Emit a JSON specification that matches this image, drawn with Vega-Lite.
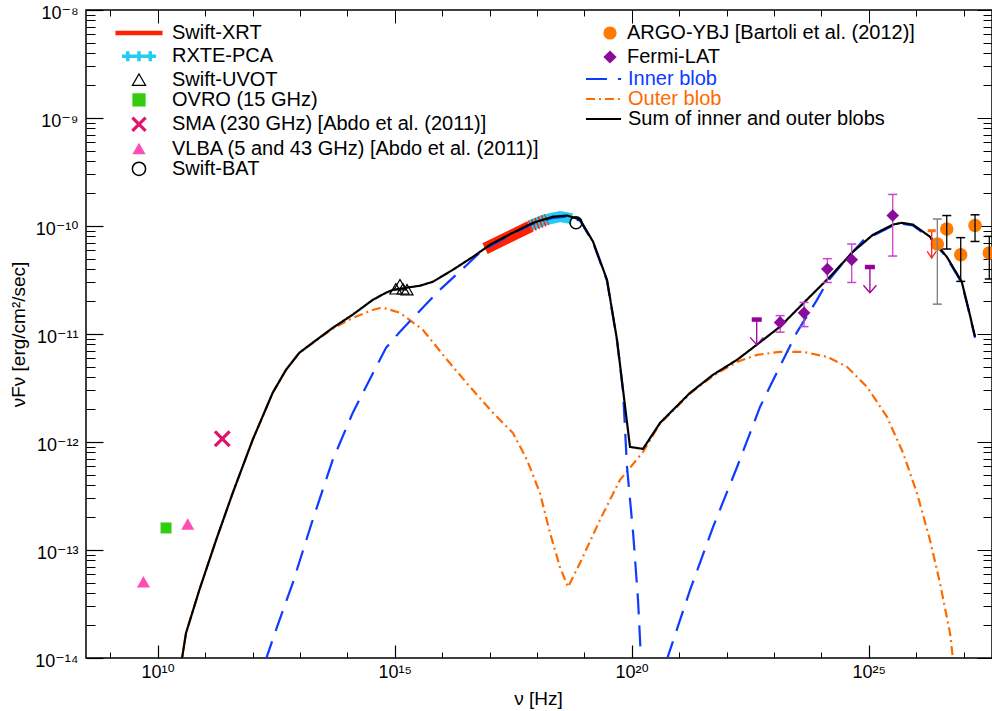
{
  "$schema": "https://vega.github.io/schema/vega-lite/v6.json",
  "width": 906,
  "height": 648,
  "autosize": "none",
  "padding": {"left": 86, "top": 10, "right": 0, "bottom": 53},
  "background": "white",
  "config": {
    "view": {"stroke": "black", "strokeWidth": 1.5},
    "font": "Liberation Sans, DejaVu Sans, sans-serif",
    "axis": {"domain": false, "grid": false, "tickColor": "black", "tickWidth": 1, "labelColor": "black", "titleColor": "black", "titleFontWeight": "normal", "labelFlush": false, "labelOverlap": false, "labelFont": "Liberation Sans, DejaVu Sans, sans-serif", "titleFont": "Liberation Sans, DejaVu Sans, sans-serif"},
    "legend": {"labelFont": "Liberation Sans, DejaVu Sans, sans-serif", "labelFontSize": 20, "labelColor": "black", "labelLimit": 700, "padding": 0, "offset": 0}
  },
  "datasets": {
    "rxte": [{"nu":7.14e17,"F":1.01e-10},{"nu":1.48e18,"F":1.14e-10},{"nu":3.07e18,"F":1.22e-10},{"nu":5.50e18,"F":1.17e-10}],
    "xrt": [{"nu":8.04e16,"F":6.17e-11},{"nu":7.14e17,"F":9.89e-11}],
    "xrth": [{"nu":7.14e17,"F":9.89e-11},{"nu":1.63e18,"F":1.15e-10}],
    "curves": [
      {"m":"sum","seg":"s","nu":3.16e10,"F":9.12e-15},
      {"m":"sum","seg":"s","nu":3.95e10,"F":1.70e-14},
      {"m":"sum","seg":"s","nu":7.55e10,"F":4.26e-14},
      {"m":"sum","seg":"s","nu":1.71e11,"F":1.24e-13},
      {"m":"sum","seg":"s","nu":3.82e11,"F":3.37e-13},
      {"m":"sum","seg":"s","nu":1.01e12,"F":1.05e-12},
      {"m":"sum","seg":"s","nu":2.67e12,"F":2.86e-12},
      {"m":"sum","seg":"s","nu":5.09e12,"F":4.66e-12},
      {"m":"sum","seg":"s","nu":9.71e12,"F":6.70e-12},
      {"m":"sum","seg":"s","nu":1.86e13,"F":8.30e-12},
      {"m":"sum","seg":"s","nu":4.92e13,"F":1.14e-11},
      {"m":"sum","seg":"s","nu":1.30e14,"F":1.51e-11},
      {"m":"sum","seg":"s","nu":3.44e14,"F":2.07e-11},
      {"m":"sum","seg":"s","nu":6.55e14,"F":2.41e-11},
      {"m":"sum","seg":"s","nu":9.33e14,"F":2.57e-11},
      {"m":"sum","seg":"s","nu":3.42e15,"F":2.80e-11},
      {"m":"sum","seg":"s","nu":6.43e15,"F":3.05e-11},
      {"m":"sum","seg":"s","nu":1.70e16,"F":3.94e-11},
      {"m":"sum","seg":"s","nu":4.49e16,"F":5.19e-11},
      {"m":"sum","seg":"s","nu":1.03e17,"F":6.71e-11},
      {"m":"sum","seg":"s","nu":3.13e17,"F":8.67e-11},
      {"m":"sum","seg":"s","nu":8.28e17,"F":1.07e-10},
      {"m":"sum","seg":"s","nu":2.19e18,"F":1.22e-10},
      {"m":"sum","seg":"s","nu":4.32e18,"F":1.25e-10},
      {"m":"sum","seg":"s","nu":8.11e18,"F":1.15e-10},
      {"m":"sum","seg":"s","nu":1.53e19,"F":7.16e-11},
      {"m":"sum","seg":"s","nu":3.01e19,"F":3.18e-11},
      {"m":"sum","seg":"s","nu":4.90e19,"F":8.83e-12},
      {"m":"sum","seg":"s","nu":6.56e19,"F":3.04e-12},
      {"m":"sum","seg":"s","nu":9.20e19,"F":9.00e-13},
      {"m":"sum","seg":"s","nu":1.73e20,"F":8.63e-13},
      {"m":"sum","seg":"s","nu":3.95e20,"F":1.50e-12},
      {"m":"sum","seg":"s","nu":1.70e21,"F":2.85e-12},
      {"m":"sum","seg":"s","nu":5.19e21,"F":4.19e-12},
      {"m":"sum","seg":"s","nu":1.67e22,"F":5.77e-12},
      {"m":"sum","seg":"s","nu":4.34e22,"F":7.94e-12},
      {"m":"sum","seg":"s","nu":1.35e23,"F":1.17e-11},
      {"m":"sum","seg":"s","nu":4.92e23,"F":2.07e-11},
      {"m":"sum","seg":"s","nu":1.52e24,"F":3.39e-11},
      {"m":"sum","seg":"s","nu":4.67e24,"F":5.78e-11},
      {"m":"sum","seg":"s","nu":1.23e25,"F":8.30e-11},
      {"m":"sum","seg":"s","nu":3.25e25,"F":1.03e-10},
      {"m":"sum","seg":"s","nu":4.97e25,"F":1.07e-10},
      {"m":"sum","seg":"s","nu":8.59e25,"F":1.03e-10},
      {"m":"sum","seg":"s","nu":1.96e26,"F":7.96e-11},
      {"m":"sum","seg":"s","nu":4.43e26,"F":5.19e-11},
      {"m":"sum","seg":"s","nu":9.16e26,"F":3.05e-11},
      {"m":"sum","seg":"s","nu":1.24e27,"F":1.79e-11},
      {"m":"sum","seg":"s","nu":1.75e27,"F":9.42e-12},
      {"m":"inner","seg":"a","nu":1.86e12,"F":9.33e-15},
      {"m":"inner","seg":"a","nu":3.40e12,"F":2.02e-14},
      {"m":"inner","seg":"a","nu":7.05e12,"F":4.94e-14},
      {"m":"inner","seg":"a","nu":1.86e13,"F":1.90e-13},
      {"m":"inner","seg":"a","nu":4.92e13,"F":6.82e-13},
      {"m":"inner","seg":"a","nu":1.30e14,"F":1.86e-12},
      {"m":"inner","seg":"a","nu":2.48e14,"F":3.24e-12},
      {"m":"inner","seg":"a","nu":6.55e14,"F":7.45e-12},
      {"m":"inner","seg":"a","nu":1.29e15,"F":1.05e-11},
      {"m":"inner","seg":"a","nu":2.43e15,"F":1.41e-11},
      {"m":"inner","seg":"a","nu":9.04e15,"F":2.57e-11},
      {"m":"inner","seg":"a","nu":3.35e16,"F":4.38e-11},
      {"m":"inner","seg":"a","nu":7.29e16,"F":6.03e-11},
      {"m":"inner","seg":"a","nu":3.13e17,"F":8.51e-11},
      {"m":"inner","seg":"a","nu":8.28e17,"F":1.05e-10},
      {"m":"inner","seg":"a","nu":2.19e18,"F":1.19e-10},
      {"m":"inner","seg":"a","nu":4.32e18,"F":1.22e-10},
      {"m":"inner","seg":"a","nu":8.11e18,"F":1.12e-10},
      {"m":"inner","seg":"a","nu":1.53e19,"F":7.00e-11},
      {"m":"inner","seg":"a","nu":3.01e19,"F":3.11e-11},
      {"m":"inner","seg":"a","nu":4.90e19,"F":8.65e-12},
      {"m":"inner","seg":"a","nu":6.56e19,"F":2.98e-12},
      {"m":"inner","seg":"a","nu":7.96e19,"F":5.87e-13},
      {"m":"inner","seg":"a","nu":1.07e20,"F":1.44e-13},
      {"m":"inner","seg":"a","nu":1.36e20,"F":3.44e-14},
      {"m":"inner","seg":"a","nu":1.585e20,"F":8.91e-15},
      {"m":"inner","seg":"b","nu":5.37e20,"F":9.33e-15},
      {"m":"inner","seg":"b","nu":1.70e21,"F":4.26e-14},
      {"m":"inner","seg":"b","nu":5.19e21,"F":1.63e-13},
      {"m":"inner","seg":"b","nu":1.67e22,"F":5.87e-13},
      {"m":"inner","seg":"b","nu":5.09e22,"F":2.11e-12},
      {"m":"inner","seg":"b","nu":9.70e22,"F":3.77e-12},
      {"m":"inner","seg":"b","nu":3.03e23,"F":1.03e-11},
      {"m":"inner","seg":"b","nu":8.11e23,"F":2.07e-11},
      {"m":"inner","seg":"b","nu":1.30e24,"F":2.98e-11},
      {"m":"inner","seg":"b","nu":3.44e24,"F":5.01e-11},
      {"m":"inner","seg":"b","nu":9.08e24,"F":7.96e-11},
      {"m":"inner","seg":"b","nu":1.23e25,"F":8.13e-11},
      {"m":"inner","seg":"b","nu":3.25e25,"F":1.01e-10},
      {"m":"inner","seg":"b","nu":4.97e25,"F":1.05e-10},
      {"m":"inner","seg":"b","nu":8.59e25,"F":1.01e-10},
      {"m":"inner","seg":"b","nu":1.96e26,"F":7.80e-11},
      {"m":"inner","seg":"b","nu":4.43e26,"F":5.08e-11},
      {"m":"inner","seg":"b","nu":9.16e26,"F":2.98e-11},
      {"m":"inner","seg":"b","nu":1.24e27,"F":1.75e-11},
      {"m":"inner","seg":"b","nu":1.75e27,"F":9.23e-12},
      {"m":"outer","seg":"o","nu":3.16e10,"F":9.12e-15},
      {"m":"outer","seg":"o","nu":3.95e10,"F":1.70e-14},
      {"m":"outer","seg":"o","nu":7.55e10,"F":4.26e-14},
      {"m":"outer","seg":"o","nu":1.71e11,"F":1.24e-13},
      {"m":"outer","seg":"o","nu":3.82e11,"F":3.37e-13},
      {"m":"outer","seg":"o","nu":1.01e12,"F":1.05e-12},
      {"m":"outer","seg":"o","nu":2.67e12,"F":2.86e-12},
      {"m":"outer","seg":"o","nu":5.09e12,"F":4.66e-12},
      {"m":"outer","seg":"o","nu":9.71e12,"F":6.70e-12},
      {"m":"outer","seg":"o","nu":1.86e13,"F":8.25e-12},
      {"m":"outer","seg":"o","nu":4.92e13,"F":1.12e-11},
      {"m":"outer","seg":"o","nu":1.30e14,"F":1.41e-11},
      {"m":"outer","seg":"o","nu":3.44e14,"F":1.67e-11},
      {"m":"outer","seg":"o","nu":4.90e14,"F":1.74e-11},
      {"m":"outer","seg":"o","nu":6.55e14,"F":1.72e-11},
      {"m":"outer","seg":"o","nu":1.29e15,"F":1.57e-11},
      {"m":"outer","seg":"o","nu":3.95e15,"F":1.09e-11},
      {"m":"outer","seg":"o","nu":1.27e16,"F":5.77e-12},
      {"m":"outer","seg":"o","nu":3.87e16,"F":3.24e-12},
      {"m":"outer","seg":"o","nu":1.19e17,"F":1.86e-12},
      {"m":"outer","seg":"o","nu":3.13e17,"F":1.21e-12},
      {"m":"outer","seg":"o","nu":6.18e17,"F":6.82e-13},
      {"m":"outer","seg":"o","nu":1.16e18,"F":3.37e-13},
      {"m":"outer","seg":"o","nu":1.89e18,"F":1.44e-13},
      {"m":"outer","seg":"o","nu":3.07e18,"F":6.95e-14},
      {"m":"outer","seg":"o","nu":4.53e18,"F":4.54e-14},
      {"m":"outer","seg":"o","nu":8.11e18,"F":7.57e-14},
      {"m":"outer","seg":"o","nu":2.14e19,"F":1.90e-13},
      {"m":"outer","seg":"o","nu":5.66e19,"F":4.46e-13},
      {"m":"outer","seg":"o","nu":1.73e20,"F":8.09e-13},
      {"m":"outer","seg":"o","nu":3.95e20,"F":1.48e-12},
      {"m":"outer","seg":"o","nu":1.70e21,"F":2.81e-12},
      {"m":"outer","seg":"o","nu":5.19e21,"F":4.10e-12},
      {"m":"outer","seg":"o","nu":1.67e22,"F":5.52e-12},
      {"m":"outer","seg":"o","nu":4.41e22,"F":6.41e-12},
      {"m":"outer","seg":"o","nu":1.35e23,"F":6.84e-12},
      {"m":"outer","seg":"o","nu":4.11e23,"F":6.84e-12},
      {"m":"outer","seg":"o","nu":1.32e24,"F":6.15e-12},
      {"m":"outer","seg":"o","nu":3.48e24,"F":4.97e-12},
      {"m":"outer","seg":"o","nu":9.20e24,"F":3.24e-12},
      {"m":"outer","seg":"o","nu":2.43e25,"F":1.71e-12},
      {"m":"outer","seg":"o","nu":5.30e25,"F":7.93e-13},
      {"m":"outer","seg":"o","nu":1.04e26,"F":3.37e-13},
      {"m":"outer","seg":"o","nu":1.96e26,"F":1.24e-13},
      {"m":"outer","seg":"o","nu":3.19e26,"F":4.94e-14},
      {"m":"outer","seg":"o","nu":5.19e26,"F":1.70e-14},
      {"m":"outer","seg":"o","nu":6.17e26,"F":8.71e-15}
    ],
    "obs": [
      {"src":"Swift-UVOT","nu":1.06e15,"F":2.62e-11},
      {"src":"Swift-UVOT","nu":1.29e15,"F":2.86e-11},
      {"src":"Swift-UVOT","nu":1.50e15,"F":2.62e-11},
      {"src":"Swift-UVOT","nu":1.82e15,"F":2.57e-11},
      {"src":"OVRO (15 GHz)","nu":1.5e10,"F":1.60e-13},
      {"src":"SMA (230 GHz) [Abdo et al. (2011)]","nu":2.3e11,"F":1.07e-12},
      {"src":"VLBA (5 and 43 GHz) [Abdo et al. (2011)]","nu":5.0e9,"F":5.08e-14},
      {"src":"VLBA (5 and 43 GHz) [Abdo et al. (2011)]","nu":4.3e10,"F":1.74e-13},
      {"src":"Swift-BAT","nu":6.68e18,"F":1.07e-10}
    ],
    "fermi": [
      {"src":"Fermi-LAT","nu":1.35e23,"F":1.28e-11,"lo":1.04e-11,"hi":1.48e-11},
      {"src":"Fermi-LAT","nu":4.32e23,"F":1.57e-11,"lo":1.17e-11,"hi":1.96e-11},
      {"src":"Fermi-LAT","nu":1.34e24,"F":3.99e-11,"lo":3.00e-11,"hi":4.98e-11},
      {"src":"Fermi-LAT","nu":4.38e24,"F":4.88e-11,"lo":3.00e-11,"hi":6.81e-11},
      {"src":"Fermi-LAT","nu":3.21e25,"F":1.25e-10,"lo":5.27e-11,"hi":1.96e-10}
    ],
    "fermi_ul": [
      {"nu":4.34e22,"top":1.36e-11,"tip":7.94e-12},
      {"nu":1.06e25,"top":4.17e-11,"tip":2.41e-11}
    ],
    "red_ul": [
      {"nu":2.13e26,"top":9.04e-11,"tip":5.05e-11}
    ],
    "argo": [
      {"src":"ARGO-YBJ [Bartoli et al. (2012)]","nu":2.80e26,"F":6.81e-11,"lo":1.89e-11,"hi":1.16e-10},
      {"src":"ARGO-YBJ [Bartoli et al. (2012)]","nu":4.43e26,"F":9.38e-11,"lo":6.12e-11,"hi":1.25e-10},
      {"src":"ARGO-YBJ [Bartoli et al. (2012)]","nu":8.73e26,"F":5.42e-11,"lo":3.07e-11,"hi":7.80e-11},
      {"src":"ARGO-YBJ [Bartoli et al. (2012)]","nu":1.75e27,"F":1.01e-10,"lo":7.19e-11,"hi":1.27e-10},
      {"src":"ARGO-YBJ [Bartoli et al. (2012)]","nu":3.50e27,"F":5.62e-11,"lo":3.23e-11,"hi":8.02e-11}
    ]
  },
  "encoding": {
    "x": {"field": "nu", "type": "quantitative", "scale": {"type": "log", "domain": [3.07e8, 3.99e27], "nice": false}, "axis": null},
    "y": {"field": "F", "type": "quantitative", "scale": {"type": "log", "domain": [1e-14, 1e-8], "nice": false}, "axis": null}
  },
  "layer": [
    {
      "data": {"name": "rxte"},
      "mark": {"type": "line", "color": "#22CCF2", "strokeWidth": 11, "strokeCap": "butt", "clip": true},
      "encoding": {}
    },
    {
      "data": {"name": "xrt"},
      "mark": {"type": "line", "color": "#FF2200", "strokeWidth": 12, "strokeCap": "butt", "clip": true},
      "encoding": {
        "x": {"field": "nu", "type": "quantitative", "scale": {"type": "log", "domain": [3.07e8, 3.99e27], "nice": false},
              "axis": {"orient": "top", "values": [1e9,1e11,1e12,1e13,1e14,1e16,1e17,1e18,1e19,1e21,1e22,1e23,1e24,1e26,1e27], "tickSize": -6, "labels": false, "title": null}},
        "y": {"field": "F", "type": "quantitative", "scale": {"type": "log", "domain": [1e-14, 1e-8], "nice": false},
              "axis": {"orient": "right", "values": [2e-14,3e-14,4e-14,5e-14,6e-14,7e-14,8e-14,9e-14,2e-13,3e-13,4e-13,5e-13,6e-13,7e-13,8e-13,9e-13,2e-12,3e-12,4e-12,5e-12,6e-12,7e-12,8e-12,9e-12,2e-11,3e-11,4e-11,5e-11,6e-11,7e-11,8e-11,9e-11,2e-10,3e-10,4e-10,5e-10,6e-10,7e-10,8e-10,9e-10,2e-9,3e-9,4e-9,5e-9,6e-9,7e-9,8e-9,9e-9], "tickSize": -9, "labels": false, "title": null}}
      }
    },
    {
      "data": {"name": "xrth"},
      "mark": {"type": "line", "color": "#FF2200", "strokeWidth": 12, "strokeCap": "butt", "strokeDash": [1.5, 2], "clip": true},
      "encoding": {}
    },
    {
      "data": {"name": "curves"},
      "transform": [{"filter": "datum.m == 'outer'"}],
      "mark": {"type": "line", "strokeWidth": 2.2, "strokeCap": "butt", "clip": true},
      "encoding": {
        "x": {"field": "nu", "type": "quantitative", "scale": {"type": "log", "domain": [3.07e8, 3.99e27], "nice": false},
              "axis": {"orient": "top", "values": [1e10,1e15,1e20,1e25], "tickSize": -13, "labels": false, "title": null}},
        "y": {"field": "F", "type": "quantitative", "scale": {"type": "log", "domain": [1e-14, 1e-8], "nice": false},
              "axis": {"orient": "right", "values": [1e-14,1e-13,1e-12,1e-11,1e-10,1e-9,1e-8], "tickSize": -15, "labels": false, "title": null}},
        "color": {"field": "m", "type": "nominal", "scale": {"domain": ["inner","outer","sum"], "range": ["#0D3BFF","#FF6A00","#000000"]},
                  "legend": {"title": null, "orient": "none", "legendX": 507.5, "legendY": 59, "symbolType": "M-2.7,0H2.7", "symbolSize": 169, "symbolStrokeWidth": 2.2, "labelOffset": 14.5, "rowPadding": 0,
                             "labelExpr": "datum.value == 'inner' ? 'Inner blob' : datum.value == 'outer' ? 'Outer blob' : 'Sum of inner and outer blobs'",
                             "labelColor": {"expr": "datum.value == 'inner' ? '#0D3BFF' : datum.value == 'outer' ? '#FF6A00' : 'black'"}}},
        "strokeDash": {"field": "m", "type": "nominal", "scale": {"domain": ["inner","outer","sum"], "range": [[21,11],[9,4,2,4],[1,0]]},
                  "legend": {"title": null, "orient": "none", "legendX": 507.5, "legendY": 59, "symbolType": "M-2.7,0H2.7", "symbolSize": 169, "symbolStrokeWidth": 2.2, "labelOffset": 14.5, "rowPadding": 0,
                             "labelExpr": "datum.value == 'inner' ? 'Inner blob' : datum.value == 'outer' ? 'Outer blob' : 'Sum of inner and outer blobs'",
                             "labelColor": {"expr": "datum.value == 'inner' ? '#0D3BFF' : datum.value == 'outer' ? '#FF6A00' : 'black'"}}},
        "detail": {"field": "seg"}
      }
    },
    {
      "data": {"name": "curves"},
      "transform": [{"filter": "datum.m == 'inner'"}],
      "mark": {"type": "line", "strokeWidth": 2.2, "strokeCap": "butt", "clip": true},
      "encoding": {
        "x": {"field": "nu", "type": "quantitative", "scale": {"type": "log", "domain": [3.07e8, 3.99e27], "nice": false},
              "axis": {"orient": "bottom", "values": [1e9,1e11,1e12,1e13,1e14,1e16,1e17,1e18,1e19,1e21,1e22,1e23,1e24,1e26,1e27], "tickSize": -6, "labels": false, "title": null}},
        "y": {"field": "F", "type": "quantitative", "scale": {"type": "log", "domain": [1e-14, 1e-8], "nice": false},
              "axis": {"orient": "left", "values": [2e-14,3e-14,4e-14,5e-14,6e-14,7e-14,8e-14,9e-14,2e-13,3e-13,4e-13,5e-13,6e-13,7e-13,8e-13,9e-13,2e-12,3e-12,4e-12,5e-12,6e-12,7e-12,8e-12,9e-12,2e-11,3e-11,4e-11,5e-11,6e-11,7e-11,8e-11,9e-11,2e-10,3e-10,4e-10,5e-10,6e-10,7e-10,8e-10,9e-10,2e-9,3e-9,4e-9,5e-9,6e-9,7e-9,8e-9,9e-9], "tickSize": -9, "labels": false, "title": null}},
        "color": {"field": "m", "type": "nominal", "scale": {"domain": ["inner","outer","sum"], "range": ["#0D3BFF","#FF6A00","#000000"]},
                  "legend": {"title": null, "orient": "none", "legendX": 507.5, "legendY": 59, "symbolType": "M-2.7,0H2.7", "symbolSize": 169, "symbolStrokeWidth": 2.2, "labelOffset": 14.5, "rowPadding": 0,
                             "labelExpr": "datum.value == 'inner' ? 'Inner blob' : datum.value == 'outer' ? 'Outer blob' : 'Sum of inner and outer blobs'",
                             "labelColor": {"expr": "datum.value == 'inner' ? '#0D3BFF' : datum.value == 'outer' ? '#FF6A00' : 'black'"}}},
        "strokeDash": {"field": "m", "type": "nominal", "scale": {"domain": ["inner","outer","sum"], "range": [[21,11],[9,4,2,4],[1,0]]},
                  "legend": {"title": null, "orient": "none", "legendX": 507.5, "legendY": 59, "symbolType": "M-2.7,0H2.7", "symbolSize": 169, "symbolStrokeWidth": 2.2, "labelOffset": 14.5, "rowPadding": 0,
                             "labelExpr": "datum.value == 'inner' ? 'Inner blob' : datum.value == 'outer' ? 'Outer blob' : 'Sum of inner and outer blobs'",
                             "labelColor": {"expr": "datum.value == 'inner' ? '#0D3BFF' : datum.value == 'outer' ? '#FF6A00' : 'black'"}}},
        "detail": {"field": "seg"}
      }
    },
    {
      "data": {"name": "curves"},
      "transform": [{"filter": "datum.m == 'sum'"}],
      "mark": {"type": "line", "strokeWidth": 2.2, "strokeCap": "butt", "clip": true},
      "encoding": {
        "x": {"field": "nu", "type": "quantitative", "scale": {"type": "log", "domain": [3.07e8, 3.99e27], "nice": false},
              "axis": {"orient": "bottom", "values": [1e10,1e15,1e20,1e25], "tickSize": -13, "tickWidth": 1.2, "labelPadding": 18, "labelFontSize": 18,
                       "labelExpr": "datum.value < 1e12 ? '10¹⁰' : datum.value < 1e17 ? '10¹⁵' : datum.value < 1e22 ? '10²⁰' : '10²⁵'",
                       "title": "ν [Hz]", "titleFontSize": 19, "titleX": 452, "titleY": 40, "titleAlign": "center", "titleBaseline": "middle"}},
        "y": {"field": "F", "type": "quantitative", "scale": {"type": "log", "domain": [1e-14, 1e-8], "nice": false},
              "axis": {"orient": "left", "values": [1e-14,1e-13,1e-12,1e-11,1e-10,1e-9,1e-8], "tickSize": -17, "tickWidth": 1.2, "labelPadding": 25, "labelFontSize": 18, "labelBaseline": "middle", "labelOffset": 3,
                       "labelExpr": "datum.value > 5e-9 ? '10⁻⁸' : datum.value > 5e-10 ? '10⁻⁹' : datum.value > 5e-11 ? '10⁻¹⁰' : datum.value > 5e-12 ? '10⁻¹¹' : datum.value > 5e-13 ? '10⁻¹²' : datum.value > 5e-14 ? '10⁻¹³' : '10⁻¹⁴'",
                       "title": "νFν [erg/cm²/sec]", "titleFontSize": 19, "titleX": -68, "titleY": 324, "titleAngle": 270, "titleAlign": "center", "titleBaseline": "middle"}},
        "color": {"field": "m", "type": "nominal", "scale": {"domain": ["inner","outer","sum"], "range": ["#0D3BFF","#FF6A00","#000000"]},
                  "legend": {"title": null, "orient": "none", "legendX": 507.5, "legendY": 59, "symbolType": "M-2.7,0H2.7", "symbolSize": 169, "symbolStrokeWidth": 2.2, "labelOffset": 14.5, "rowPadding": 0,
                             "labelExpr": "datum.value == 'inner' ? 'Inner blob' : datum.value == 'outer' ? 'Outer blob' : 'Sum of inner and outer blobs'",
                             "labelColor": {"expr": "datum.value == 'inner' ? '#0D3BFF' : datum.value == 'outer' ? '#FF6A00' : 'black'"}}},
        "strokeDash": {"field": "m", "type": "nominal", "scale": {"domain": ["inner","outer","sum"], "range": [[21,11],[9,4,2,4],[1,0]]},
                  "legend": {"title": null, "orient": "none", "legendX": 507.5, "legendY": 59, "symbolType": "M-2.7,0H2.7", "symbolSize": 169, "symbolStrokeWidth": 2.2, "labelOffset": 14.5, "rowPadding": 0,
                             "labelExpr": "datum.value == 'inner' ? 'Inner blob' : datum.value == 'outer' ? 'Outer blob' : 'Sum of inner and outer blobs'",
                             "labelColor": {"expr": "datum.value == 'inner' ? '#0D3BFF' : datum.value == 'outer' ? '#FF6A00' : 'black'"}}}
      }
    },
    {
      "data": {"name": "obs"},
      "transform": [{"filter": "datum.src == 'OVRO (15 GHz)'"}],
      "mark": {"type": "point", "size": 121, "opacity": 1},
      "encoding": {
        "shape": {"field": "src", "type": "nominal", "scale": {"domain": ["Swift-XRT","RXTE-PCA","Swift-UVOT","OVRO (15 GHz)","SMA (230 GHz) [Abdo et al. (2011)]","VLBA (5 and 43 GHz) [Abdo et al. (2011)]","Swift-BAT","ARGO-YBJ [Bartoli et al. (2012)]","Fermi-LAT"], "range": ["M-3.56,-0.34H3.56V0.34H-3.56Z","M-2.58,0H2.58M-1.7,-0.76V0.76M0,-0.76V0.76M1.7,-0.76V0.76","triangle-up","square","M-1,-1L1,1M-1,1L1,-1","triangle-up","circle","circle","diamond"]},
                  "legend": {"title": null, "orient": "none", "legendX": 43, "legendY": 13, "symbolSize": 175, "labelOffset": 23, "rowPadding": 0.3, "values": ["Swift-XRT","RXTE-PCA","Swift-UVOT","OVRO (15 GHz)","SMA (230 GHz) [Abdo et al. (2011)]","VLBA (5 and 43 GHz) [Abdo et al. (2011)]","Swift-BAT"]}},
        "fill": {"field": "src", "type": "nominal", "scale": {"domain": ["Swift-XRT","RXTE-PCA","Swift-UVOT","OVRO (15 GHz)","SMA (230 GHz) [Abdo et al. (2011)]","VLBA (5 and 43 GHz) [Abdo et al. (2011)]","Swift-BAT","ARGO-YBJ [Bartoli et al. (2012)]","Fermi-LAT"], "range": ["#FF2200","transparent","transparent","#33CC11","transparent","#FF4DB8","transparent","#FF7A00","#8A0A9A"]},
                  "legend": {"title": null, "orient": "none", "legendX": 43, "legendY": 13, "symbolSize": 175, "labelOffset": 23, "rowPadding": 0.3, "values": ["Swift-XRT","RXTE-PCA","Swift-UVOT","OVRO (15 GHz)","SMA (230 GHz) [Abdo et al. (2011)]","VLBA (5 and 43 GHz) [Abdo et al. (2011)]","Swift-BAT"]}},
        "stroke": {"field": "src", "type": "nominal", "scale": {"domain": ["Swift-XRT","RXTE-PCA","Swift-UVOT","OVRO (15 GHz)","SMA (230 GHz) [Abdo et al. (2011)]","VLBA (5 and 43 GHz) [Abdo et al. (2011)]","Swift-BAT","ARGO-YBJ [Bartoli et al. (2012)]","Fermi-LAT"], "range": ["transparent","#22CCF2","#000000","transparent","#E0136D","transparent","#000000","transparent","transparent"]},
                  "legend": {"title": null, "orient": "none", "legendX": 43, "legendY": 13, "symbolSize": 175, "labelOffset": 23, "rowPadding": 0.3, "values": ["Swift-XRT","RXTE-PCA","Swift-UVOT","OVRO (15 GHz)","SMA (230 GHz) [Abdo et al. (2011)]","VLBA (5 and 43 GHz) [Abdo et al. (2011)]","Swift-BAT"]}},
        "strokeWidth": {"field": "src", "type": "nominal", "scale": {"type": "ordinal", "domain": ["Swift-XRT","RXTE-PCA","Swift-UVOT","OVRO (15 GHz)","SMA (230 GHz) [Abdo et al. (2011)]","VLBA (5 and 43 GHz) [Abdo et al. (2011)]","Swift-BAT","ARGO-YBJ [Bartoli et al. (2012)]","Fermi-LAT"], "range": [0,3.5,1.2,0,3.2,0,1.5,0,0]},
                  "legend": {"title": null, "orient": "none", "legendX": 43, "legendY": 13, "symbolSize": 175, "labelOffset": 23, "rowPadding": 0.3, "values": ["Swift-XRT","RXTE-PCA","Swift-UVOT","OVRO (15 GHz)","SMA (230 GHz) [Abdo et al. (2011)]","VLBA (5 and 43 GHz) [Abdo et al. (2011)]","Swift-BAT"]}}
      }
    },
    {
      "data": {"name": "obs"},
      "transform": [{"filter": "datum.src == 'Swift-UVOT'"}],
      "mark": {"type": "point", "size": 144, "opacity": 1},
      "encoding": {
        "shape": {"field": "src", "type": "nominal", "scale": {"domain": ["Swift-XRT","RXTE-PCA","Swift-UVOT","OVRO (15 GHz)","SMA (230 GHz) [Abdo et al. (2011)]","VLBA (5 and 43 GHz) [Abdo et al. (2011)]","Swift-BAT","ARGO-YBJ [Bartoli et al. (2012)]","Fermi-LAT"], "range": ["M-3.56,-0.34H3.56V0.34H-3.56Z","M-2.58,0H2.58M-1.7,-0.76V0.76M0,-0.76V0.76M1.7,-0.76V0.76","triangle-up","square","M-1,-1L1,1M-1,1L1,-1","triangle-up","circle","circle","diamond"]}, "legend": null},
        "fill": {"field": "src", "type": "nominal", "scale": {"domain": ["Swift-XRT","RXTE-PCA","Swift-UVOT","OVRO (15 GHz)","SMA (230 GHz) [Abdo et al. (2011)]","VLBA (5 and 43 GHz) [Abdo et al. (2011)]","Swift-BAT","ARGO-YBJ [Bartoli et al. (2012)]","Fermi-LAT"], "range": ["#FF2200","transparent","transparent","#33CC11","transparent","#FF4DB8","transparent","#FF7A00","#8A0A9A"]}, "legend": null},
        "stroke": {"field": "src", "type": "nominal", "scale": {"domain": ["Swift-XRT","RXTE-PCA","Swift-UVOT","OVRO (15 GHz)","SMA (230 GHz) [Abdo et al. (2011)]","VLBA (5 and 43 GHz) [Abdo et al. (2011)]","Swift-BAT","ARGO-YBJ [Bartoli et al. (2012)]","Fermi-LAT"], "range": ["transparent","#22CCF2","#000000","transparent","#E0136D","transparent","#000000","transparent","transparent"]}, "legend": null},
        "strokeWidth": {"field": "src", "type": "nominal", "scale": {"type": "ordinal", "domain": ["Swift-XRT","RXTE-PCA","Swift-UVOT","OVRO (15 GHz)","SMA (230 GHz) [Abdo et al. (2011)]","VLBA (5 and 43 GHz) [Abdo et al. (2011)]","Swift-BAT","ARGO-YBJ [Bartoli et al. (2012)]","Fermi-LAT"], "range": [0,3.5,1.2,0,3.2,0,1.5,0,0]}, "legend": null}
      }
    },
    {
      "data": {"name": "obs"},
      "transform": [{"filter": "indexof(datum.src, 'SMA') == 0"}],
      "mark": {"type": "point", "size": 216, "opacity": 1},
      "encoding": {
        "shape": {"field": "src", "type": "nominal", "scale": {"domain": ["Swift-XRT","RXTE-PCA","Swift-UVOT","OVRO (15 GHz)","SMA (230 GHz) [Abdo et al. (2011)]","VLBA (5 and 43 GHz) [Abdo et al. (2011)]","Swift-BAT","ARGO-YBJ [Bartoli et al. (2012)]","Fermi-LAT"], "range": ["M-3.56,-0.34H3.56V0.34H-3.56Z","M-2.58,0H2.58M-1.7,-0.76V0.76M0,-0.76V0.76M1.7,-0.76V0.76","triangle-up","square","M-1,-1L1,1M-1,1L1,-1","triangle-up","circle","circle","diamond"]}, "legend": null},
        "fill": {"field": "src", "type": "nominal", "scale": {"domain": ["Swift-XRT","RXTE-PCA","Swift-UVOT","OVRO (15 GHz)","SMA (230 GHz) [Abdo et al. (2011)]","VLBA (5 and 43 GHz) [Abdo et al. (2011)]","Swift-BAT","ARGO-YBJ [Bartoli et al. (2012)]","Fermi-LAT"], "range": ["#FF2200","transparent","transparent","#33CC11","transparent","#FF4DB8","transparent","#FF7A00","#8A0A9A"]}, "legend": null},
        "stroke": {"field": "src", "type": "nominal", "scale": {"domain": ["Swift-XRT","RXTE-PCA","Swift-UVOT","OVRO (15 GHz)","SMA (230 GHz) [Abdo et al. (2011)]","VLBA (5 and 43 GHz) [Abdo et al. (2011)]","Swift-BAT","ARGO-YBJ [Bartoli et al. (2012)]","Fermi-LAT"], "range": ["transparent","#22CCF2","#000000","transparent","#E0136D","transparent","#000000","transparent","transparent"]}, "legend": null},
        "strokeWidth": {"field": "src", "type": "nominal", "scale": {"type": "ordinal", "domain": ["Swift-XRT","RXTE-PCA","Swift-UVOT","OVRO (15 GHz)","SMA (230 GHz) [Abdo et al. (2011)]","VLBA (5 and 43 GHz) [Abdo et al. (2011)]","Swift-BAT","ARGO-YBJ [Bartoli et al. (2012)]","Fermi-LAT"], "range": [0,3.5,1.2,0,3.2,0,1.5,0,0]}, "legend": null}
      }
    },
    {
      "data": {"name": "obs"},
      "transform": [{"filter": "indexof(datum.src, 'VLBA') == 0"}],
      "mark": {"type": "point", "size": 170, "opacity": 1},
      "encoding": {
        "shape": {"field": "src", "type": "nominal", "scale": {"domain": ["Swift-XRT","RXTE-PCA","Swift-UVOT","OVRO (15 GHz)","SMA (230 GHz) [Abdo et al. (2011)]","VLBA (5 and 43 GHz) [Abdo et al. (2011)]","Swift-BAT","ARGO-YBJ [Bartoli et al. (2012)]","Fermi-LAT"], "range": ["M-3.56,-0.34H3.56V0.34H-3.56Z","M-2.58,0H2.58M-1.7,-0.76V0.76M0,-0.76V0.76M1.7,-0.76V0.76","triangle-up","square","M-1,-1L1,1M-1,1L1,-1","triangle-up","circle","circle","diamond"]}, "legend": null},
        "fill": {"field": "src", "type": "nominal", "scale": {"domain": ["Swift-XRT","RXTE-PCA","Swift-UVOT","OVRO (15 GHz)","SMA (230 GHz) [Abdo et al. (2011)]","VLBA (5 and 43 GHz) [Abdo et al. (2011)]","Swift-BAT","ARGO-YBJ [Bartoli et al. (2012)]","Fermi-LAT"], "range": ["#FF2200","transparent","transparent","#33CC11","transparent","#FF4DB8","transparent","#FF7A00","#8A0A9A"]}, "legend": null},
        "stroke": {"field": "src", "type": "nominal", "scale": {"domain": ["Swift-XRT","RXTE-PCA","Swift-UVOT","OVRO (15 GHz)","SMA (230 GHz) [Abdo et al. (2011)]","VLBA (5 and 43 GHz) [Abdo et al. (2011)]","Swift-BAT","ARGO-YBJ [Bartoli et al. (2012)]","Fermi-LAT"], "range": ["transparent","#22CCF2","#000000","transparent","#E0136D","transparent","#000000","transparent","transparent"]}, "legend": null},
        "strokeWidth": {"field": "src", "type": "nominal", "scale": {"type": "ordinal", "domain": ["Swift-XRT","RXTE-PCA","Swift-UVOT","OVRO (15 GHz)","SMA (230 GHz) [Abdo et al. (2011)]","VLBA (5 and 43 GHz) [Abdo et al. (2011)]","Swift-BAT","ARGO-YBJ [Bartoli et al. (2012)]","Fermi-LAT"], "range": [0,3.5,1.2,0,3.2,0,1.5,0,0]}, "legend": null}
      }
    },
    {
      "data": {"name": "obs"},
      "transform": [{"filter": "datum.src == 'Swift-BAT'"}],
      "mark": {"type": "point", "size": 144, "opacity": 1},
      "encoding": {
        "shape": {"field": "src", "type": "nominal", "scale": {"domain": ["Swift-XRT","RXTE-PCA","Swift-UVOT","OVRO (15 GHz)","SMA (230 GHz) [Abdo et al. (2011)]","VLBA (5 and 43 GHz) [Abdo et al. (2011)]","Swift-BAT","ARGO-YBJ [Bartoli et al. (2012)]","Fermi-LAT"], "range": ["M-3.56,-0.34H3.56V0.34H-3.56Z","M-2.58,0H2.58M-1.7,-0.76V0.76M0,-0.76V0.76M1.7,-0.76V0.76","triangle-up","square","M-1,-1L1,1M-1,1L1,-1","triangle-up","circle","circle","diamond"]}, "legend": null},
        "fill": {"field": "src", "type": "nominal", "scale": {"domain": ["Swift-XRT","RXTE-PCA","Swift-UVOT","OVRO (15 GHz)","SMA (230 GHz) [Abdo et al. (2011)]","VLBA (5 and 43 GHz) [Abdo et al. (2011)]","Swift-BAT","ARGO-YBJ [Bartoli et al. (2012)]","Fermi-LAT"], "range": ["#FF2200","transparent","transparent","#33CC11","transparent","#FF4DB8","transparent","#FF7A00","#8A0A9A"]}, "legend": null},
        "stroke": {"field": "src", "type": "nominal", "scale": {"domain": ["Swift-XRT","RXTE-PCA","Swift-UVOT","OVRO (15 GHz)","SMA (230 GHz) [Abdo et al. (2011)]","VLBA (5 and 43 GHz) [Abdo et al. (2011)]","Swift-BAT","ARGO-YBJ [Bartoli et al. (2012)]","Fermi-LAT"], "range": ["transparent","#22CCF2","#000000","transparent","#E0136D","transparent","#000000","transparent","transparent"]}, "legend": null},
        "strokeWidth": {"field": "src", "type": "nominal", "scale": {"type": "ordinal", "domain": ["Swift-XRT","RXTE-PCA","Swift-UVOT","OVRO (15 GHz)","SMA (230 GHz) [Abdo et al. (2011)]","VLBA (5 and 43 GHz) [Abdo et al. (2011)]","Swift-BAT","ARGO-YBJ [Bartoli et al. (2012)]","Fermi-LAT"], "range": [0,3.5,1.2,0,3.2,0,1.5,0,0]}, "legend": null}
      }
    },
    {
      "data": {"name": "argo"},
      "mark": {"type": "point", "size": 182, "opacity": 1},
      "encoding": {
        "shape": {"field": "src", "type": "nominal", "scale": {"domain": ["Swift-XRT","RXTE-PCA","Swift-UVOT","OVRO (15 GHz)","SMA (230 GHz) [Abdo et al. (2011)]","VLBA (5 and 43 GHz) [Abdo et al. (2011)]","Swift-BAT","ARGO-YBJ [Bartoli et al. (2012)]","Fermi-LAT"], "range": ["M-3.56,-0.34H3.56V0.34H-3.56Z","M-2.58,0H2.58M-1.7,-0.76V0.76M0,-0.76V0.76M1.7,-0.76V0.76","triangle-up","square","M-1,-1L1,1M-1,1L1,-1","triangle-up","circle","circle","diamond"]},
                  "legend": {"title": null, "orient": "none", "legendX": 514, "legendY": 13, "symbolSize": 175, "labelOffset": 7, "rowPadding": 4, "values": ["ARGO-YBJ [Bartoli et al. (2012)]","Fermi-LAT"]}},
        "fill": {"field": "src", "type": "nominal", "scale": {"domain": ["Swift-XRT","RXTE-PCA","Swift-UVOT","OVRO (15 GHz)","SMA (230 GHz) [Abdo et al. (2011)]","VLBA (5 and 43 GHz) [Abdo et al. (2011)]","Swift-BAT","ARGO-YBJ [Bartoli et al. (2012)]","Fermi-LAT"], "range": ["#FF2200","transparent","transparent","#33CC11","transparent","#FF4DB8","transparent","#FF7A00","#8A0A9A"]},
                  "legend": {"title": null, "orient": "none", "legendX": 514, "legendY": 13, "symbolSize": 175, "labelOffset": 7, "rowPadding": 4, "values": ["ARGO-YBJ [Bartoli et al. (2012)]","Fermi-LAT"]}},
        "stroke": {"field": "src", "type": "nominal", "scale": {"domain": ["Swift-XRT","RXTE-PCA","Swift-UVOT","OVRO (15 GHz)","SMA (230 GHz) [Abdo et al. (2011)]","VLBA (5 and 43 GHz) [Abdo et al. (2011)]","Swift-BAT","ARGO-YBJ [Bartoli et al. (2012)]","Fermi-LAT"], "range": ["transparent","#22CCF2","#000000","transparent","#E0136D","transparent","#000000","transparent","transparent"]},
                  "legend": {"title": null, "orient": "none", "legendX": 514, "legendY": 13, "symbolSize": 175, "labelOffset": 7, "rowPadding": 4, "values": ["ARGO-YBJ [Bartoli et al. (2012)]","Fermi-LAT"]}},
        "strokeWidth": {"field": "src", "type": "nominal", "scale": {"type": "ordinal", "domain": ["Swift-XRT","RXTE-PCA","Swift-UVOT","OVRO (15 GHz)","SMA (230 GHz) [Abdo et al. (2011)]","VLBA (5 and 43 GHz) [Abdo et al. (2011)]","Swift-BAT","ARGO-YBJ [Bartoli et al. (2012)]","Fermi-LAT"], "range": [0,3.5,1.2,0,3.2,0,1.5,0,0]},
                  "legend": {"title": null, "orient": "none", "legendX": 514, "legendY": 13, "symbolSize": 175, "labelOffset": 7, "rowPadding": 4, "values": ["ARGO-YBJ [Bartoli et al. (2012)]","Fermi-LAT"]}}
      }
    },
    {
      "data": {"name": "argo"},
      "mark": {"type": "rule", "strokeWidth": 1.3},
      "encoding": {
        "y": {"field": "lo", "type": "quantitative", "scale": {"type": "log", "domain": [1e-14, 1e-8], "nice": false}, "axis": null},
        "y2": {"field": "hi"},
        "color": {"condition": {"test": "datum.nu < 3e26", "value": "#7F7F7F"}, "value": "black"}
      }
    },
    {
      "data": {"name": "argo"},
      "mark": {"type": "tick", "orient": "horizontal", "size": 9, "thickness": 1.5, "opacity": 1},
      "encoding": {
        "y": {"field": "lo", "type": "quantitative", "scale": {"type": "log", "domain": [1e-14, 1e-8], "nice": false}, "axis": null},
        "color": {"condition": {"test": "datum.nu < 3e26", "value": "#7F7F7F"}, "value": "black"}
      }
    },
    {
      "data": {"name": "argo"},
      "mark": {"type": "tick", "orient": "horizontal", "size": 9, "thickness": 1.5, "opacity": 1},
      "encoding": {
        "y": {"field": "hi", "type": "quantitative", "scale": {"type": "log", "domain": [1e-14, 1e-8], "nice": false}, "axis": null},
        "color": {"condition": {"test": "datum.nu < 3e26", "value": "#7F7F7F"}, "value": "black"}
      }
    },
    {
      "data": {"name": "fermi"},
      "mark": {"type": "rule", "color": "#CC44CC", "strokeWidth": 1.3},
      "encoding": {
        "y": {"field": "lo", "type": "quantitative", "scale": {"type": "log", "domain": [1e-14, 1e-8], "nice": false}, "axis": null},
        "y2": {"field": "hi"}
      }
    },
    {
      "data": {"name": "fermi"},
      "mark": {"type": "tick", "orient": "horizontal", "size": 9, "thickness": 1.5, "color": "#CC44CC", "opacity": 1},
      "encoding": {
        "y": {"field": "lo", "type": "quantitative", "scale": {"type": "log", "domain": [1e-14, 1e-8], "nice": false}, "axis": null}
      }
    },
    {
      "data": {"name": "fermi"},
      "mark": {"type": "tick", "orient": "horizontal", "size": 9, "thickness": 1.5, "color": "#CC44CC", "opacity": 1},
      "encoding": {
        "y": {"field": "hi", "type": "quantitative", "scale": {"type": "log", "domain": [1e-14, 1e-8], "nice": false}, "axis": null}
      }
    },
    {
      "data": {"name": "fermi"},
      "mark": {"type": "point", "size": 160, "opacity": 1},
      "encoding": {
        "shape": {"field": "src", "type": "nominal", "scale": {"domain": ["Swift-XRT","RXTE-PCA","Swift-UVOT","OVRO (15 GHz)","SMA (230 GHz) [Abdo et al. (2011)]","VLBA (5 and 43 GHz) [Abdo et al. (2011)]","Swift-BAT","ARGO-YBJ [Bartoli et al. (2012)]","Fermi-LAT"], "range": ["M-3.56,-0.34H3.56V0.34H-3.56Z","M-2.58,0H2.58M-1.7,-0.76V0.76M0,-0.76V0.76M1.7,-0.76V0.76","triangle-up","square","M-1,-1L1,1M-1,1L1,-1","triangle-up","circle","circle","diamond"]}, "legend": null},
        "fill": {"field": "src", "type": "nominal", "scale": {"domain": ["Swift-XRT","RXTE-PCA","Swift-UVOT","OVRO (15 GHz)","SMA (230 GHz) [Abdo et al. (2011)]","VLBA (5 and 43 GHz) [Abdo et al. (2011)]","Swift-BAT","ARGO-YBJ [Bartoli et al. (2012)]","Fermi-LAT"], "range": ["#FF2200","transparent","transparent","#33CC11","transparent","#FF4DB8","transparent","#FF7A00","#8A0A9A"]}, "legend": null},
        "stroke": {"field": "src", "type": "nominal", "scale": {"domain": ["Swift-XRT","RXTE-PCA","Swift-UVOT","OVRO (15 GHz)","SMA (230 GHz) [Abdo et al. (2011)]","VLBA (5 and 43 GHz) [Abdo et al. (2011)]","Swift-BAT","ARGO-YBJ [Bartoli et al. (2012)]","Fermi-LAT"], "range": ["transparent","#22CCF2","#000000","transparent","#E0136D","transparent","#000000","transparent","transparent"]}, "legend": null},
        "strokeWidth": {"field": "src", "type": "nominal", "scale": {"type": "ordinal", "domain": ["Swift-XRT","RXTE-PCA","Swift-UVOT","OVRO (15 GHz)","SMA (230 GHz) [Abdo et al. (2011)]","VLBA (5 and 43 GHz) [Abdo et al. (2011)]","Swift-BAT","ARGO-YBJ [Bartoli et al. (2012)]","Fermi-LAT"], "range": [0,3.5,1.2,0,3.2,0,1.5,0,0]}, "legend": null}
      }
    },
    {
      "data": {"name": "fermi_ul"},
      "mark": {"type": "rule", "color": "#990099", "strokeWidth": 1.3},
      "encoding": {
        "y": {"field": "top", "type": "quantitative", "scale": {"type": "log", "domain": [1e-14, 1e-8], "nice": false}, "axis": null},
        "y2": {"field": "tip"}
      }
    },
    {
      "data": {"name": "fermi_ul"},
      "mark": {"type": "tick", "orient": "horizontal", "size": 10, "thickness": 4.5, "color": "#990099", "opacity": 1},
      "encoding": {
        "y": {"field": "top", "type": "quantitative", "scale": {"type": "log", "domain": [1e-14, 1e-8], "nice": false}, "axis": null}
      }
    },
    {
      "data": {"name": "fermi_ul"},
      "mark": {"type": "point", "shape": "M-1,-1.15L0,0L1,-1.15", "filled": false, "color": "#990099", "strokeWidth": 1.3, "size": 169, "opacity": 1},
      "encoding": {
        "y": {"field": "tip", "type": "quantitative", "scale": {"type": "log", "domain": [1e-14, 1e-8], "nice": false}, "axis": null}
      }
    },
    {
      "data": {"name": "red_ul"},
      "mark": {"type": "rule", "color": "#FF2222", "strokeWidth": 1.3},
      "encoding": {
        "y": {"field": "top", "type": "quantitative", "scale": {"type": "log", "domain": [1e-14, 1e-8], "nice": false}, "axis": null},
        "y2": {"field": "tip"}
      }
    },
    {
      "data": {"name": "red_ul"},
      "mark": {"type": "tick", "orient": "horizontal", "size": 8, "thickness": 3, "color": "#FF6A00", "opacity": 1},
      "encoding": {
        "y": {"field": "top", "type": "quantitative", "scale": {"type": "log", "domain": [1e-14, 1e-8], "nice": false}, "axis": null}
      }
    },
    {
      "data": {"name": "red_ul"},
      "mark": {"type": "point", "shape": "M-1,-1.5L0,0L1,-1.5", "filled": false, "color": "#FF2222", "strokeWidth": 1.3, "size": 81, "opacity": 1},
      "encoding": {
        "y": {"field": "tip", "type": "quantitative", "scale": {"type": "log", "domain": [1e-14, 1e-8], "nice": false}, "axis": null}
      }
    }
  ],
  "resolve": {
    "axis": {"x": "independent", "y": "independent"},
    "legend": {"shape": "independent", "fill": "independent", "stroke": "independent", "strokeWidth": "independent"}
  }
}
